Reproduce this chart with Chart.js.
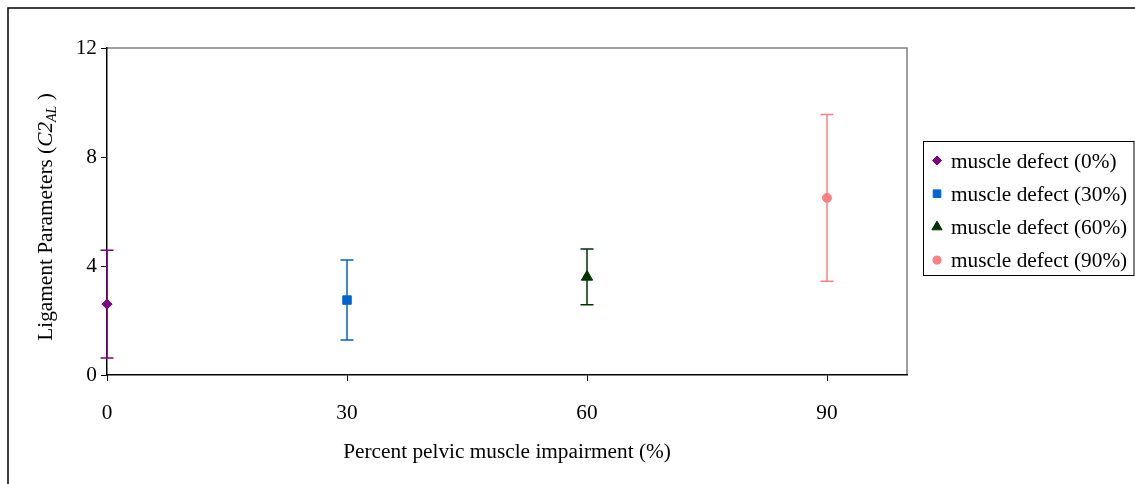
<!DOCTYPE html>
<html>
<head>
<meta charset="utf-8">
<script src="https://cdn.jsdelivr.net/npm/chart.js@4/dist/chart.umd.min.js"></script>
<style>
  html, body { margin: 0; padding: 0; background: #fff; }
  #myChart { display: block; }
</style>
</head>
<body>
<canvas id="myChart" width="1135" height="484"></canvas>
<script>
// data
const categories = ['muscle defect (0%)', 'muscle defect (30%)', 'muscle defect (60%)', 'muscle defect (90%)'];
const impairment = [0, 30, 60, 90];
const means = [2.6, 2.75, 3.6, 6.5];
const errors = [1.98, 1.47, 1.02, 3.06];
const xTicks = [0, 30, 60, 90];
const yTicks = [0, 4, 8, 12];

const colors = ['#800080', '#0066CC', '#003300', '#FF8080'];
const shapes = ['rectRot', 'rect', 'triangle', 'circle'];
const radii = [5, 6, 6.5, 4.5];
const FONT = 'Liberation Serif, Times New Roman, serif';

const extras = {
    id: 'extras',
    beforeDraw(chart) {
        const ctx = chart.ctx;
        ctx.save();
        ctx.fillStyle = '#fff';
        ctx.fillRect(0, 0, chart.width, chart.height);
        // outer frame
        ctx.strokeStyle = '#000';
        ctx.lineWidth = 1.5;
        ctx.beginPath();
        ctx.moveTo(8, chart.height);
        ctx.lineTo(8, 8);
        ctx.lineTo(chart.width, 8);
        ctx.stroke();
        // plot area top / right edge
        const a = chart.chartArea;
        ctx.strokeStyle = '#808080';
        ctx.lineWidth = 1.5;
        ctx.beginPath();
        ctx.moveTo(a.left, a.top);
        ctx.lineTo(a.right, a.top);
        ctx.lineTo(a.right, a.bottom);
        ctx.stroke();
        ctx.restore();
    },
    beforeDatasetsDraw(chart) {
        // error bars
        const ctx = chart.ctx;
        const xs = chart.scales.x, ys = chart.scales.y;
        ctx.save();
        ctx.lineWidth = 1.5;
        impairment.forEach((v, i) => {
            const px = xs.getPixelForValue(v);
            const top = ys.getPixelForValue(means[i] + errors[i]);
            const bot = ys.getPixelForValue(means[i] - errors[i]);
            ctx.strokeStyle = colors[i];
            ctx.beginPath();
            ctx.moveTo(px, top); ctx.lineTo(px, bot);
            ctx.moveTo(px - 6.5, top); ctx.lineTo(px + 6.5, top);
            ctx.moveTo(px - 6.5, bot); ctx.lineTo(px + 6.5, bot);
            ctx.stroke();
        });
        ctx.restore();
    },
    afterDraw(chart) {
        const ctx = chart.ctx;
        const a = chart.chartArea;
        ctx.save();
        ctx.fillStyle = '#000';
        ctx.font = '21.3px ' + FONT;

        // x title
        ctx.textAlign = 'center';
        ctx.textBaseline = 'alphabetic';
        ctx.fillText('Percent pelvic muscle impairment (%)', (a.left + a.right) / 2, 458);

        // y title with italic subscript
        const parts = [
            { t: 'Ligament Parameters (', f: '21.3px ' + FONT, dy: 0 },
            { t: 'C2', f: 'italic 21.3px ' + FONT, dy: 0 },
            { t: 'AL', f: 'italic 14px ' + FONT, dy: 4 },
            { t: ' )', f: '21.3px ' + FONT, dy: 0 }
        ];
        let total = 0;
        parts.forEach(p => { ctx.font = p.f; p.w = ctx.measureText(p.t).width; total += p.w; });
        ctx.translate(52, 217);
        ctx.rotate(-Math.PI / 2);
        ctx.textAlign = 'left';
        let x = -total / 2;
        parts.forEach(p => { ctx.font = p.f; ctx.fillText(p.t, x, p.dy); x += p.w; });
        ctx.restore();

        // legend
        ctx.save();
        ctx.strokeStyle = '#000';
        ctx.lineWidth = 1;
        ctx.strokeRect(923.5, 141.5, 210.5, 134);
        ctx.font = '21.3px ' + FONT;
        ctx.textAlign = 'left';
        ctx.textBaseline = 'alphabetic';
        categories.forEach((c, i) => {
            const cy = 160.5 + i * 33.2;
            ctx.fillStyle = colors[i];
            ctx.strokeStyle = colors[i];
            Chart.helpers.drawPoint(ctx, { pointStyle: shapes[i], radius: radii[i] * 0.9, borderWidth: 1, rotation: 0 }, 937, cy);
            ctx.fillStyle = '#000';
            ctx.fillText(c, 951, cy + 7);
        });
        ctx.restore();
    }
};

const datasets = categories.map((c, i) => ({
    label: c,
    data: [{ x: impairment[i], y: means[i] }],
    backgroundColor: colors[i],
    borderColor: colors[i],
    pointStyle: shapes[i],
    pointRadius: radii[i],
    borderWidth: 1,
    clip: false
}));

new Chart(document.getElementById('myChart').getContext('2d'), {
    type: 'scatter',
    data: { datasets },
    options: {
        responsive: false,
        animation: false,
        layout: { padding: { left: 0, top: 48, right: 228, bottom: 0 } },
        plugins: { legend: { display: false }, tooltip: { enabled: false } },
        scales: {
            x: {
                type: 'linear', min: 0, max: 100,
                afterFit(s) { s.height = 109; },
                afterBuildTicks(s) { s.ticks = xTicks.map(v => ({ value: v })); },
                grid: { drawOnChartArea: false, tickLength: 6, tickColor: '#000' },
                border: { color: '#000', width: 1.5 },
                ticks: { color: '#000', padding: 20, maxRotation: 0, font: { family: FONT, size: 21.3 } }
            },
            y: {
                type: 'linear', min: 0, max: 12,
                afterFit(s) { s.width = 107; },
                afterBuildTicks(s) { s.ticks = yTicks.map(v => ({ value: v })); },
                grid: { drawOnChartArea: false, tickLength: 6, tickColor: '#000' },
                border: { color: '#000', width: 1.5 },
                ticks: { color: '#000', padding: 4, font: { family: FONT, size: 21.3 } }
            }
        }
    },
    plugins: [extras]
});
</script>
</body>
</html>
